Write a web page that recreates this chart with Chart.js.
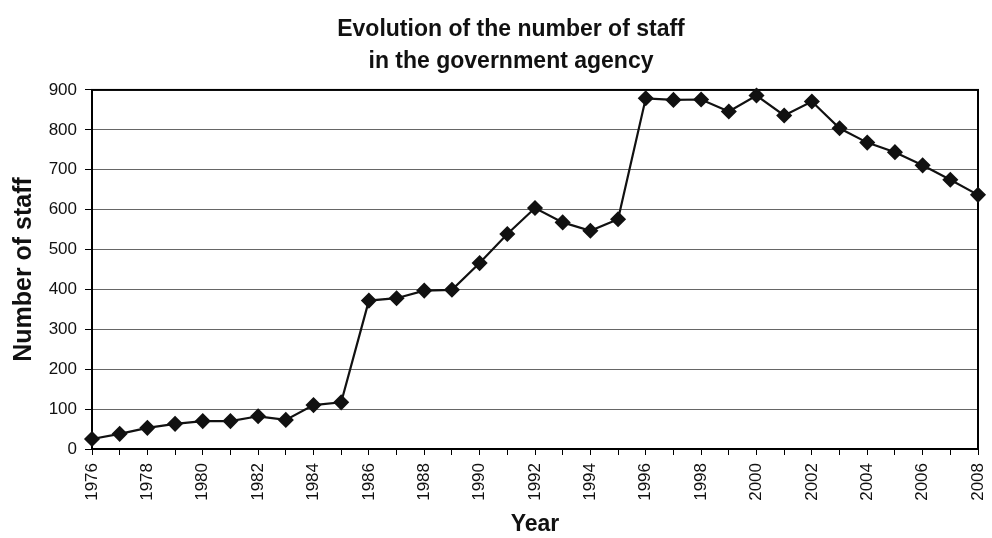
<!DOCTYPE html>
<html>
<head>
<meta charset="utf-8">
<script src="https://cdn.jsdelivr.net/npm/chart.js@4/dist/chart.umd.min.js"></script>
<style>
  html, body { margin: 0; padding: 0; background: #fff; }
  #wrap { width: 992px; height: 538px; }
</style>
</head>
<body>
<div id="wrap"><canvas id="c"></canvas></div>
<script>
const years = [1976,1977,1978,1979,1980,1981,1982,1983,1984,1985,1986,1987,1988,1989,1990,1991,1992,1993,1994,1995,1996,1997,1998,1999,2000,2001,2002,2003,2004,2005,2006,2007,2008];
const staff = [25,38,53,63,70,70,82,73,110,117,372,378,397,399,466,539,604,568,547,576,879,875,876,846,886,836,871,804,768,744,711,675,637];
const yTicks = [0,100,200,300,400,500,600,700,800,900];
const titleLines = ['Evolution of the number of staff', 'in the government agency'];
const xTitle = 'Year';
const yTitle = 'Number of staff';

const FONT = 'Liberation Sans, Arial, Helvetica, sans-serif';

const framePlugin = {
  id: 'frame',
  beforeDatasetsDraw(chart) {
    const a = chart.chartArea, ctx = chart.ctx;
    ctx.save();
    ctx.strokeStyle = '#000';
    ctx.lineWidth = 2;
    ctx.strokeRect(a.left, a.top, a.right - a.left, a.bottom - a.top);
    ctx.restore();
  }
};

new Chart(document.getElementById('c'), {
  type: 'line',
  data: {
    labels: years.map(String),
    datasets: [{
      data: staff,
      borderColor: '#111',
      backgroundColor: '#111',
      borderWidth: 2.2,
      pointStyle: 'rectRot',
      pointRadius: 6.5,
      pointHoverRadius: 6.5,
      tension: 0,
      clip: false
    }]
  },
  options: {
    responsive: true,
    maintainAspectRatio: false,
    animation: false,
    devicePixelRatio: 1,
    layout: { padding: { left: 30, right: 0, top: 0, bottom: 0 } },
    plugins: {
      legend: { display: false },
      tooltip: { enabled: false },
      title: {
        display: true,
        text: titleLines,
        color: '#111',
        font: { family: FONT, size: 23, weight: 'bold', lineHeight: 1.39 },
        padding: { top: 14, bottom: 12 }
      }
    },
    scales: {
      x: {
        type: 'category',
        offset: false,
        grid: { display: true, drawOnChartArea: false, drawTicks: true, tickLength: 6, tickColor: '#000', tickWidth: 1 },
        border: { display: false },
        ticks: {
          autoSkip: false,
          minRotation: 90,
          maxRotation: 90,
          padding: 8,
          color: '#111',
          font: { family: FONT, size: 17 },
          callback: function(v, i) { return i % 2 === 0 ? this.getLabelForValue(v) : ''; }
        },
        title: {
          display: true,
          text: xTitle,
          color: '#111',
          font: { family: FONT, size: 23, weight: 'bold' },
          padding: { top: -2, bottom: 0 }
        },
        afterFit(s) { s.height = 89; s.paddingRight = 14; s.paddingLeft = 0; }
      },
      y: {
        min: 0,
        max: 900,
        afterBuildTicks(s) { s.ticks = yTicks.map(v => ({ value: v })); },
        grid: { color: '#666', lineWidth: 1, drawTicks: true, tickLength: 7, tickColor: '#000', tickWidth: 1 },
        border: { display: false },
        ticks: {
          padding: 8,
          color: '#111',
          font: { family: FONT, size: 17 }
        },
        title: {
          display: true,
          text: yTitle,
          color: '#111',
          font: { family: FONT, size: 25, weight: 'bold' },
          padding: { top: -21, bottom: 0 }
        },
        afterFit(s) { s.width = 62; s.paddingTop = 0; s.paddingBottom = 0; }
      }
    }
  },
  plugins: [framePlugin]
});
</script>
</body>
</html>
